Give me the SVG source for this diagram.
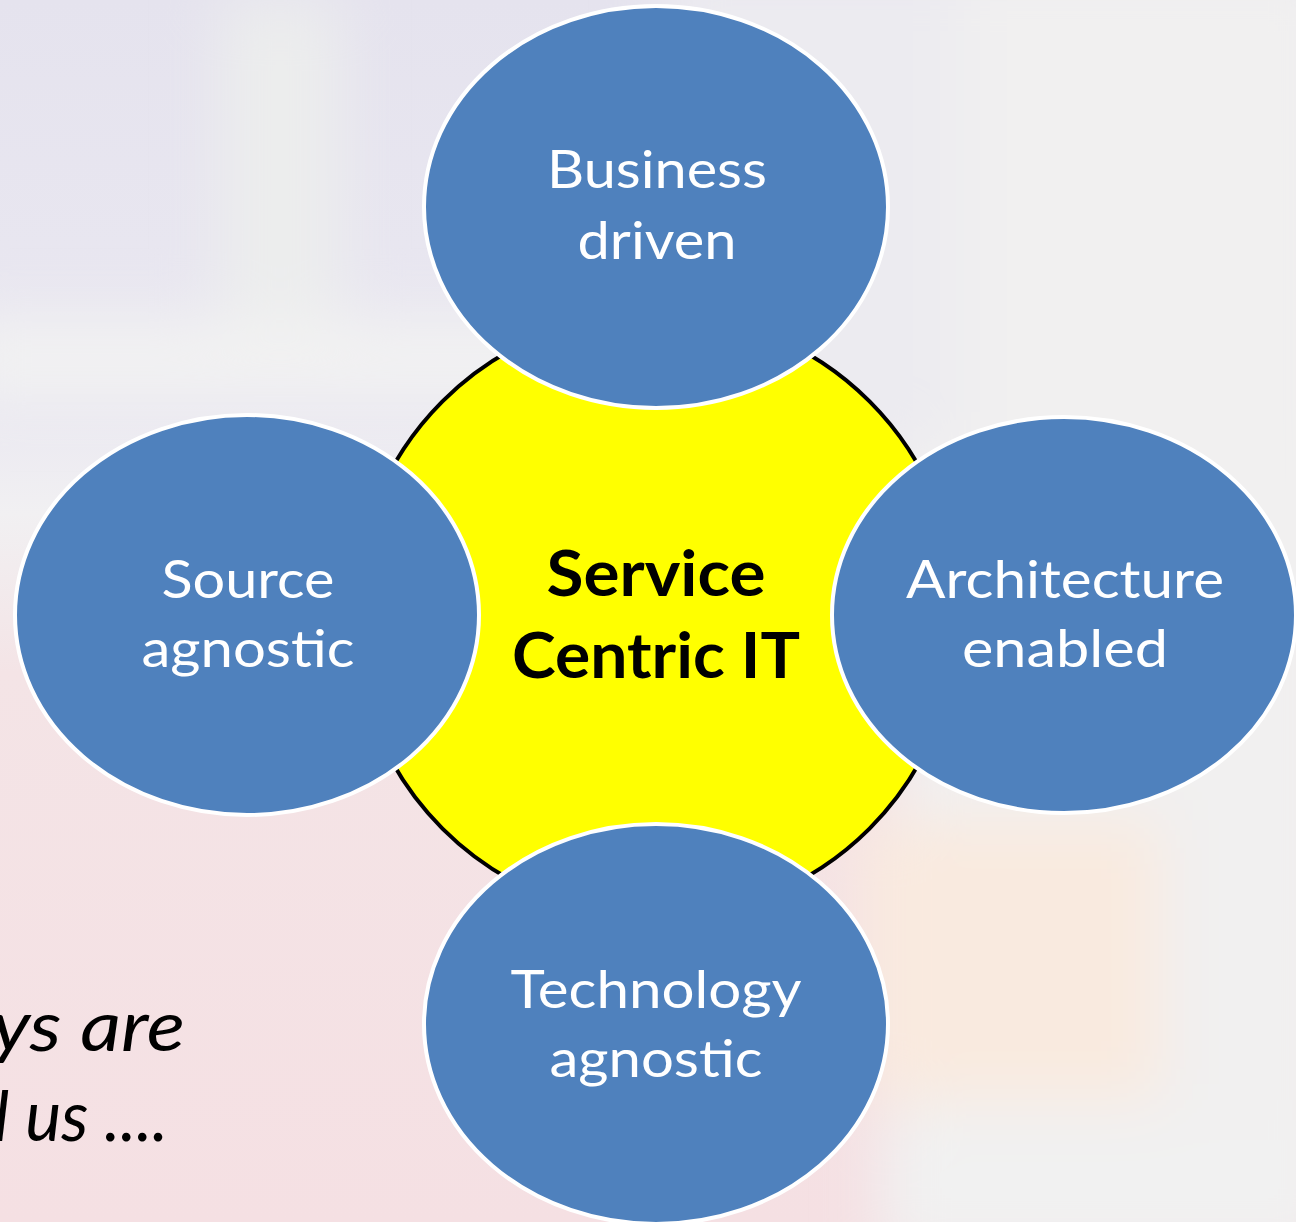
<svg xmlns="http://www.w3.org/2000/svg" width="1296" height="1222" viewBox="0 0 1296 1222">
<style>
.bub{fill:#4f81bd;stroke:#ffffff;stroke-width:4}
.lbl{font-family:"Lato","Open Sans","Liberation Sans",sans-serif;font-size:53px;fill:#ffffff;text-anchor:middle}
.ctr{font-family:"Lato","Open Sans","Liberation Sans",sans-serif;font-size:64px;font-weight:bold;fill:#000000;text-anchor:middle}
.it{font-family:"Lato","Open Sans","Liberation Sans",sans-serif;font-size:70px;font-style:italic;fill:#000000}
</style>
<defs>
<linearGradient id="bgv" x1="0" y1="0" x2="0" y2="1">
<stop offset="0" stop-color="#e5e3ee"/>
<stop offset="0.33" stop-color="#eae8f1"/>
<stop offset="0.42" stop-color="#f1f0f2"/>
<stop offset="0.55" stop-color="#f4e4e6"/>
<stop offset="1" stop-color="#f5e0e3"/>
</linearGradient>
<filter id="blur" x="-20%" y="-20%" width="140%" height="140%"><feGaussianBlur stdDeviation="30"/></filter>
</defs>
<g id="background">
<rect width="1296" height="1222" fill="url(#bgv)"/>
<g filter="url(#blur)">
<rect x="900" y="-40" width="440" height="1300" fill="#f1f0f0"/>
<rect x="660" y="-40" width="300" height="480" fill="#ecebf0"/>
<rect x="220" y="0" width="120" height="330" fill="#eceded"/>
<rect x="-40" y="320" width="700" height="80" fill="#f2f2f2"/>
<rect x="860" y="820" width="300" height="280" fill="#f9eadf"/>
<rect x="880" y="1120" width="440" height="140" fill="#f1f1f1"/>
</g>
</g>
<g id="connectors"/>
<g id="center">
<circle cx="656" cy="615" r="302" fill="#ffff00" stroke="#000000" stroke-width="4"/>
<text class="ctr" x="656" y="596" textLength="219" lengthAdjust="spacingAndGlyphs">Service</text>
<text class="ctr" x="656" y="678" textLength="288" lengthAdjust="spacingAndGlyphs">Centric IT</text>
</g>
<g id="node-business">
<ellipse class="bub" cx="656" cy="207" rx="232" ry="201"/>
<text class="lbl" x="657" y="188" textLength="220" lengthAdjust="spacingAndGlyphs">Business</text>
<text class="lbl" x="657" y="259" textLength="159" lengthAdjust="spacingAndGlyphs">driven</text>
</g>
<g id="node-source">
<ellipse class="bub" cx="247" cy="615" rx="232" ry="200"/>
<text class="lbl" x="248" y="598" textLength="173" lengthAdjust="spacingAndGlyphs">Source</text>
<text class="lbl" x="248" y="667" textLength="213" lengthAdjust="spacingAndGlyphs">agnostic</text>
</g>
<g id="node-architecture">
<ellipse class="bub" cx="1064" cy="615" rx="232" ry="198"/>
<text class="lbl" x="1065" y="598" textLength="318" lengthAdjust="spacingAndGlyphs">Architecture</text>
<text class="lbl" x="1065" y="667" textLength="206" lengthAdjust="spacingAndGlyphs">enabled</text>
</g>
<g id="node-technology">
<ellipse class="bub" cx="656" cy="1024" rx="232" ry="200"/>
<text class="lbl" x="656" y="1008" textLength="291" lengthAdjust="spacingAndGlyphs">Technology</text>
<text class="lbl" x="656" y="1077" textLength="213" lengthAdjust="spacingAndGlyphs">agnostic</text>
</g>
<g id="caption">
<text class="it" x="-8" y="1051" textLength="193" lengthAdjust="spacingAndGlyphs">ys are</text>
<text class="it" x="-6" y="1141" textLength="174" lengthAdjust="spacingAndGlyphs">l us ....</text>
</g>
</svg>
